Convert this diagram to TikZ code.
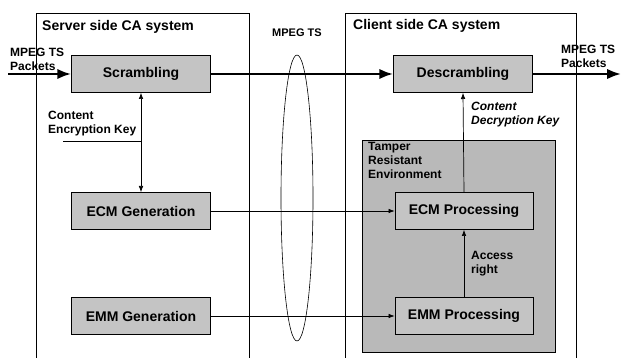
\documentclass[tikz,border=0pt]{standalone}
\usepackage{fontspec}
\setmainfont{Liberation Sans}
\usetikzlibrary{arrows.meta, positioning, shapes.geometric}
\definecolor{blockgray}{HTML}{C4C4C4}
\definecolor{tampergray}{HTML}{B9B9B9}

\begin{document}
\begin{tikzpicture}[x=1pt, y=-1pt, font=\bfseries, >=Latex]
  % Styles
  \tikzstyle{procbox} = [draw=black, fill=blockgray, line width=0.7pt, minimum width=139pt,
    minimum height=37pt, font=\fontsize{14}{16}\selectfont\bfseries]
  \tikzstyle{smalllabel} = [font=\fontsize{12}{14}\selectfont\bfseries, align=left, inner sep=0pt]
  \tikzstyle{titlelabel} = [font=\fontsize{14}{16}\selectfont\bfseries, inner sep=0pt, anchor=base west]
  \tikzstyle{tsflow} = [->, line width=2.4pt]
  \tikzstyle{keyflow} = [->, line width=0.7pt]

  \useasboundingbox (0,0) rectangle (622,358);

  % System frames (open at the bottom)
  \draw[line width=0.6pt] (36,358) -- (36,13) -- (249,13) -- (249,358);
  \draw[line width=0.6pt] (345,358) -- (345,13) -- (576,13) -- (576,358);
  \node[titlelabel] (srvtitle) at (42,31) {Server side CA system};
  \node[titlelabel] (clttitle) at (353,30) {Client side CA system};

  % Tamper resistant area
  \node[draw=black, fill=tampergray, line width=0.6pt, minimum width=193pt, minimum height=212pt,
        anchor=north west] (tamper) at (362,140) {};
  \node[smalllabel, anchor=north west] (tampertxt) at (368,142) {Tamper\\Resistant\\Environment};

  % Server side blocks
  \node[procbox] (scr) at (141,74) {Scrambling};
  \node[procbox] (ecmgen) at (141,211) {ECM Generation};
  \node[procbox] (emmgen) at (141,316) {EMM Generation};

  % Client side blocks
  \node[procbox] (descr) at (463,74) {Descrambling};
  \node[procbox, minimum width=138pt] (ecmproc) at (464,211) {ECM Processing};
  \node[procbox, minimum width=138pt] (emmproc) at (464,316) {EMM Processing};

  % Transport medium
  \node[draw=black, line width=0.6pt, ellipse, minimum width=32pt, minimum height=286pt] (medium) at (297,198) {};
  \node[font=\fontsize{11}{13}\selectfont\bfseries, inner sep=0pt, anchor=base] (mediumtxt) at (297,37) {MPEG TS};

  % MPEG TS stream
  \coordinate (tsin) at (8,74);
  \coordinate (tsout) at (621,74);
  \draw[tsflow] (tsin) -- (scr.west);
  \draw[tsflow] (scr.east) -- (descr.west);
  \draw[tsflow] (descr.east) -- (tsout);
  \node[smalllabel, anchor=south west] (tsintxt) at (10,71) {MPEG TS\\Packets};
  \node[smalllabel, anchor=south west] (tsouttxt) at (561,68) {MPEG TS\\Packets};

  % Keys and messages
  \draw[keyflow, <->] (scr.south) -- (ecmgen.north);
  \coordinate (cekleft) at (63,141);
  \coordinate (cekjoin) at (141,141);
  \draw[line width=0.7pt] (cekleft) -- (cekjoin);
  \node[smalllabel, anchor=south west] (cektxt) at (48,136) {Content\\Encryption Key};

  \draw[keyflow] (ecmgen.east) -- (ecmproc.west);
  \draw[keyflow] (emmgen.east) -- (emmproc.west);
  \draw[keyflow] (ecmproc.north) -- (descr.south);
  \draw[keyflow] (emmproc.north) -- (ecmproc.south);
  \node[smalllabel, font=\fontsize{12}{14}\selectfont\bfseries\itshape, anchor=south west] (cdktxt) at (471,127) {Content\\Decryption Key};
  \node[smalllabel, anchor=south west] (accesstxt) at (471,276) {Access\\right};

\end{tikzpicture}
\end{document}
